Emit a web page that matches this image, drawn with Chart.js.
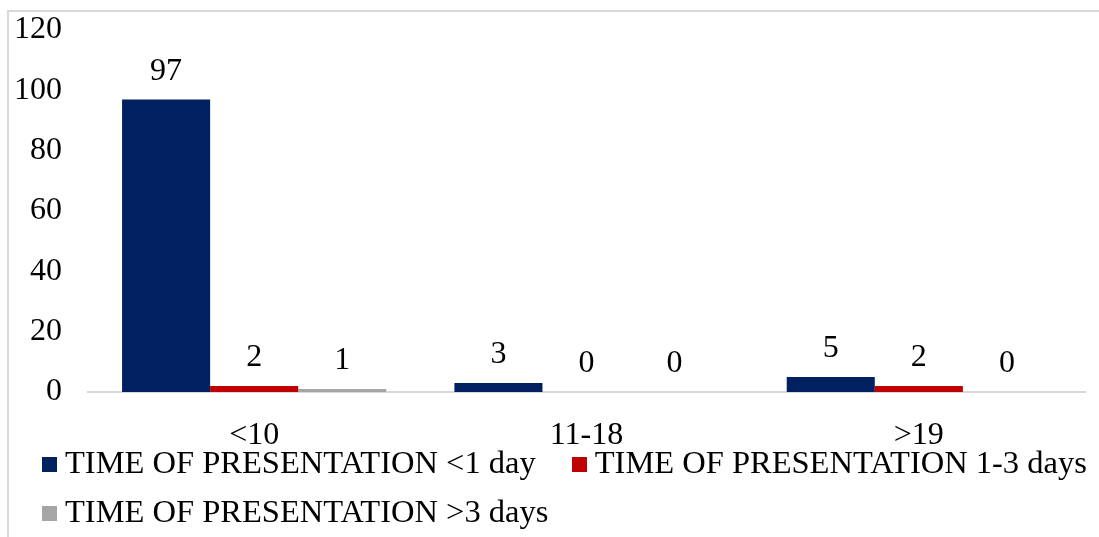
<!DOCTYPE html>
<html><head><meta charset="utf-8">
<script src="https://cdn.jsdelivr.net/npm/chart.js@4.4.0/dist/chart.umd.min.js"></script>
<style>
html,body{margin:0;padding:0;background:#fff;overflow:hidden}
#frame{position:absolute;left:7px;top:10px;width:1200px;height:700px;border-left:2px solid #d9d9d9;border-top:2px solid #d9d9d9;}
#wrap{position:absolute;left:0;top:0;width:1099px;height:537px}
</style></head><body>
<div id="frame"></div>
<div id="wrap"><canvas id="c"></canvas></div>
<script>
const categories = ['<10', '11-18', '>19'];
const seriesNames = ['TIME OF PRESENTATION <1 day', 'TIME OF PRESENTATION 1-3 days', 'TIME OF PRESENTATION >3 days'];
const lessThan1Day = [97, 3, 5];
const oneToThreeDays = [2, 0, 2];
const moreThan3Days = [1, 0, 0];
const seriesColors = ['#002060', '#C00000', '#A5A5A5'];
const yMin = 0, yMax = 120, yStep = 20;

const FONT = '"Liberation Serif", "Times New Roman", serif';
const LEG_FONT = 32.5, LEG_PAD = 16.5, LEG_W = 26.25, SQ = 15;

const valueLabels = {
  id: 'valueLabels',
  afterDatasetsDraw(chart) {
    const ctx = chart.ctx;
    ctx.save();
    ctx.font = '32px ' + FONT;
    ctx.fillStyle = '#000';
    ctx.textAlign = 'center';
    ctx.textBaseline = 'middle';
    chart.data.datasets.forEach((ds, i) => {
      chart.getDatasetMeta(i).data.forEach((bar, j) => {
        ctx.fillText(String(ds.data[j]), bar.x, bar.y - 28);
      });
    });
    ctx.restore();
  }
};
const layoutTweak = {
  id: 'layoutTweak',
  afterLayout(chart) {
    const lg = chart.legend;
    lg.left = 6;
    lg.right = chart.width + 30;
    lg.top = 432;
    chart.scales.x.bottom = chart.height;
  },
  afterDraw(chart) {
    const lg = chart.legend;
    const ctx = chart.ctx;
    ctx.save();
    lg.legendHitBoxes.forEach((hb, i) => {
      const textStart = hb.left + LEG_W + LEG_FONT / 2;
      const cy = hb.top + hb.height / 2 - 0.5;
      ctx.fillStyle = chart.data.datasets[i].backgroundColor;
      ctx.fillRect(Math.round(textStart - 23), Math.round(cy - SQ / 2), SQ, SQ);
    });
    ctx.restore();
  }
};

new Chart(document.getElementById('c'), {
  type: 'bar',
  data: {
    labels: categories,
    datasets: [
      { label: seriesNames[0], data: lessThan1Day, backgroundColor: seriesColors[0] },
      { label: seriesNames[1], data: oneToThreeDays, backgroundColor: seriesColors[1] },
      { label: seriesNames[2], data: moreThan3Days, backgroundColor: seriesColors[2] }
    ]
  },
  options: {
    responsive: true,
    maintainAspectRatio: false,
    animation: false,
    devicePixelRatio: 1,
    datasets: { bar: { barPercentage: 1, categoryPercentage: 0.795, borderWidth: 0 } },
    layout: { padding: { top: 30, left: 0, right: 0, bottom: 0 } },
    scales: {
      x: {
        grid: { display: false, drawTicks: false },
        border: { display: true, color: '#d9d9d9', width: 2 },
        ticks: { font: { family: FONT, size: 32 }, color: '#000', padding: 24, maxRotation: 0 },
        afterFit(s) { s.height = 37; s.paddingLeft = 0; s.paddingRight = 0; }
      },
      y: {
        min: yMin, max: yMax,
        grid: { display: false, drawTicks: false },
        border: { display: false },
        ticks: { stepSize: yStep, font: { family: FONT, size: 32 }, color: '#000', padding: 26 },
        afterFit(s) { s.width = 88; s.paddingTop = 0; s.paddingBottom = 0; }
      },
      yRight: {
        type: 'linear', position: 'right', display: true,
        grid: { display: false, drawTicks: false },
        border: { display: false },
        ticks: { display: false },
        afterFit(s) { s.width = 14; s.paddingTop = 0; s.paddingBottom = 0; }
      }
    },
    plugins: {
      tooltip: { enabled: false },
      legend: {
        position: 'bottom',
        align: 'start',
        labels: {
          boxWidth: LEG_W, boxHeight: 1, padding: LEG_PAD,
          font: { family: FONT, size: LEG_FONT }, color: '#000',
          generateLabels(chart) {
            return chart.data.datasets.map((ds, i) => ({
              text: ds.label,
              fillStyle: 'rgba(0,0,0,0)',
              strokeStyle: 'rgba(0,0,0,0)',
              lineWidth: 0,
              hidden: false,
              datasetIndex: i,
              fontColor: '#000'
            }));
          }
        }
      }
    }
  },
  plugins: [valueLabels, layoutTweak]
});
</script>
</body></html>
